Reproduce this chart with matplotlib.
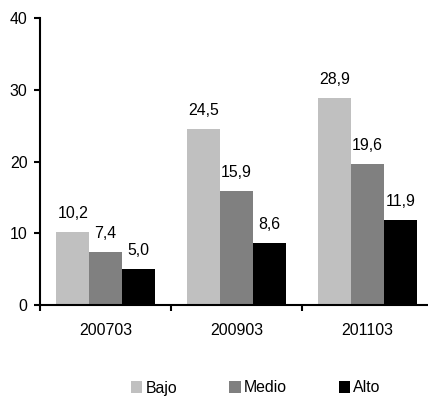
import matplotlib.pyplot as plt
import numpy as np

plt.rcParams['font.family'] = ['Liberation Sans', 'DejaVu Sans']
plt.rcParams['font.size'] = 11.4

# data
categories = ['200703', '200903', '201103']
series_names = ['Bajo', 'Medio', 'Alto']
bajo = [10.2, 24.5, 28.9]
medio = [7.4, 15.9, 19.6]
alto = [5.0, 8.6, 11.9]
colors = ['#c0c0c0', '#808080', '#000000']

fig = plt.figure(figsize=(4.28, 3.96), dpi=100)
ax = fig.add_axes([40 / 428, 1 - 305 / 396, 393 / 428, 287 / 396])

x = np.arange(len(categories))
width = 0.25
for i, (vals, name, col) in enumerate(zip([bajo, medio, alto], series_names, colors)):
    pos = x + (i - 1) * width
    ax.bar(pos, vals, width, color=col, label=name)
    for px, v in zip(pos, vals):
        ax.annotate(f'{v:.1f}'.replace('.', ','), (px, v), xytext=(0, 10),
                    textcoords='offset points', ha='center', va='baseline')

ax.set_xlim(-0.5, 2.5)
ax.set_ylim(0, 40)
ax.set_yticks([0, 10, 20, 30, 40])

# category labels centred, tick marks on boundaries
ax.set_xticks([-0.5, 0.5, 1.5, 2.5])
ax.set_xticklabels([])
ax.set_xticks(x, minor=True)
ax.set_xticklabels(categories, minor=True)
ax.tick_params(axis='x', which='minor', length=0, pad=13)
ax.tick_params(axis='x', which='major', length=4, width=1.5, direction='out')
ax.tick_params(axis='y', length=4, width=1.5, direction='out', pad=5)

for s in ['top', 'right']:
    ax.spines[s].set_visible(False)
for s in ['left', 'bottom']:
    ax.spines[s].set_linewidth(1.5)

fig.legend(loc='center', bbox_to_anchor=(0.598, 1 - 388 / 396), ncol=3, frameon=False,
           handlelength=0.7, handleheight=0.7, handletextpad=0.2, columnspacing=3.3)

fig.savefig('out.png', dpi=100)
